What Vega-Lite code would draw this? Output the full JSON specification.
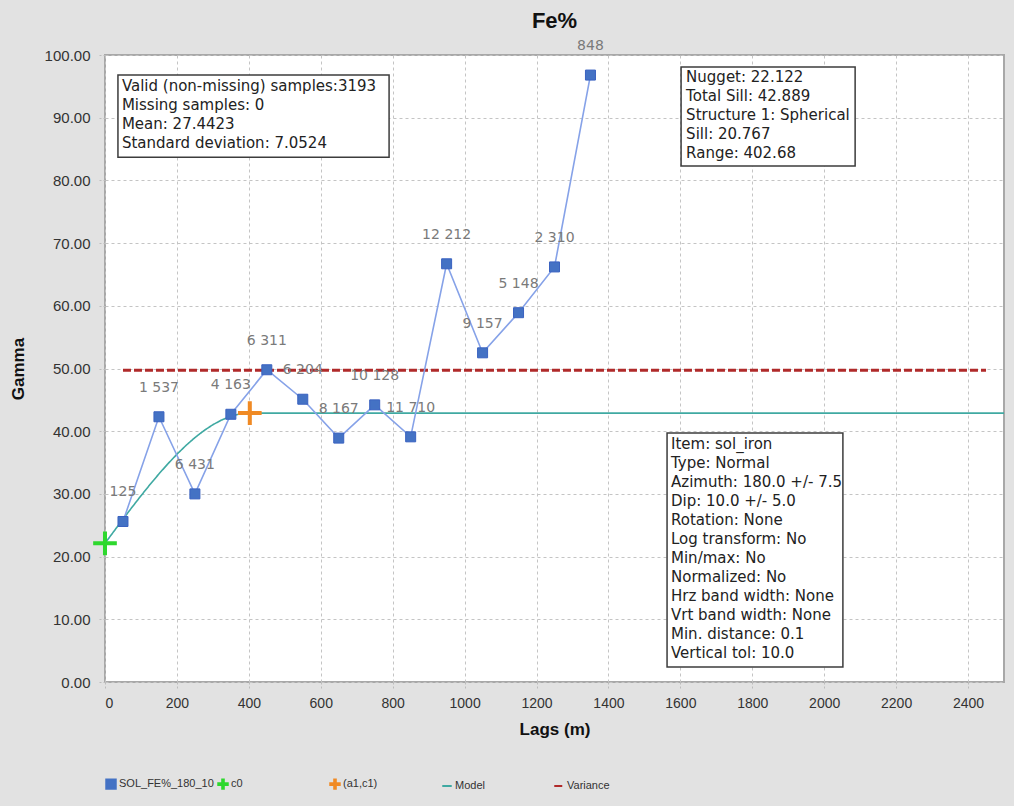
{
  "$schema": "https://vega.github.io/schema/vega-lite/v6.json",
  "width": 899,
  "height": 627,
  "autosize": {"type": "none"},
  "padding": {"left": 105, "top": 55, "right": 10, "bottom": 124},
  "background": "#e2e2e2",
  "title": {"text": "Fe%", "fontSize": 22, "fontWeight": "bold", "font": "Liberation Sans", "color": "#111", "anchor": "middle", "offset": 6},
  "config": {
    "view": {"fill": "white", "stroke": "#a8a8a8", "strokeWidth": 2},
    "axis": {
      "domain": false,
      "grid": true,
      "gridColor": "#c4c4c4",
      "gridDash": [3, 3],
      "gridWidth": 1,
      "tickColor": "#bcbcbc",
      "tickDash": [2, 2],
      "tickSize": 8,
      "labelFont": "Liberation Sans",
      "labelColor": "#333",
      "titleFont": "Liberation Sans",
      "titleFontWeight": "bold",
      "titleFontSize": 17,
      "titleColor": "#111"
    },
    "legend": {
      "labelFont": "Liberation Sans",
      "labelFontSize": 11,
      "labelColor": "#333"
    }
  },
  "datasets": {
    "lags": [
      {"lag": 50, "gamma": 25.6, "pairs": "125", "series": "SOL_FE%_180_10"},
      {"lag": 150, "gamma": 42.3, "pairs": "1 537", "series": "SOL_FE%_180_10"},
      {"lag": 250, "gamma": 30.0, "pairs": "6 431", "series": "SOL_FE%_180_10"},
      {"lag": 350, "gamma": 42.7, "pairs": "4 163", "series": "SOL_FE%_180_10"},
      {"lag": 450, "gamma": 49.8, "pairs": "6 311", "series": "SOL_FE%_180_10"},
      {"lag": 550, "gamma": 45.1, "pairs": "6 204", "series": "SOL_FE%_180_10"},
      {"lag": 650, "gamma": 38.9, "pairs": "8 167", "series": "SOL_FE%_180_10"},
      {"lag": 750, "gamma": 44.2, "pairs": "10 128", "series": "SOL_FE%_180_10"},
      {"lag": 850, "gamma": 39.1, "pairs": "11 710", "series": "SOL_FE%_180_10"},
      {"lag": 950, "gamma": 66.7, "pairs": "12 212", "series": "SOL_FE%_180_10"},
      {"lag": 1050, "gamma": 52.5, "pairs": "9 157", "series": "SOL_FE%_180_10"},
      {"lag": 1150, "gamma": 58.9, "pairs": "5 148", "series": "SOL_FE%_180_10"},
      {"lag": 1250, "gamma": 66.2, "pairs": "2 310", "series": "SOL_FE%_180_10"},
      {"lag": 1350, "gamma": 96.8, "pairs": "848", "series": "SOL_FE%_180_10"}
    ],
    "model": [
      {"lag": 0, "gamma": 22.122, "series": "Model"},
      {"lag": 25, "gamma": 24.054, "series": "Model"},
      {"lag": 50, "gamma": 25.970, "series": "Model"},
      {"lag": 75, "gamma": 27.857, "series": "Model"},
      {"lag": 100, "gamma": 29.699, "series": "Model"},
      {"lag": 125, "gamma": 31.481, "series": "Model"},
      {"lag": 150, "gamma": 33.189, "series": "Model"},
      {"lag": 175, "gamma": 34.807, "series": "Model"},
      {"lag": 200, "gamma": 36.321, "series": "Model"},
      {"lag": 225, "gamma": 37.716, "series": "Model"},
      {"lag": 250, "gamma": 38.977, "series": "Model"},
      {"lag": 275, "gamma": 40.088, "series": "Model"},
      {"lag": 300, "gamma": 41.036, "series": "Model"},
      {"lag": 325, "gamma": 41.804, "series": "Model"},
      {"lag": 350, "gamma": 42.379, "series": "Model"},
      {"lag": 375, "gamma": 42.745, "series": "Model"},
      {"lag": 402.68, "gamma": 42.889, "series": "Model"},
      {"lag": 2500, "gamma": 42.889, "series": "Model"}
    ],
    "variance": [
      {"lag": 50, "gamma": 49.736, "series": "Variance"},
      {"lag": 2450, "gamma": 49.736, "series": "Variance"}
    ],
    "points": [
      {"lag": 0, "gamma": 22.122, "series": "c0"},
      {"lag": 402.68, "gamma": 42.889, "series": "(a1,c1)"}
    ],
    "box1": [{"text": "Valid (non-missing) samples:3193\nMissing samples: 0\nMean: 27.4423\nStandard deviation: 7.0524"}],
    "box2": [{"text": "Nugget: 22.122\nTotal Sill: 42.889\nStructure 1: Spherical\nSill:  20.767\nRange: 402.68"}],
    "box3": [{"text": "Item: sol_iron\nType: Normal\nAzimuth: 180.0 +/- 7.5\nDip: 10.0 +/- 5.0\nRotation: None\nLog transform: No\nMin/max: No\nNormalized: No\nHrz band width: None\nVrt band width: None\nMin. distance: 0.1\nVertical tol: 10.0"}]
  },
  "layer": [
    {
      "data": {"name": "model"},
      "mark": {"type": "line", "strokeWidth": 1.6, "clip": false},
      "encoding": {
        "x": {"field": "lag", "type": "quantitative", "scale": {"domain": [0, 2500], "nice": false}, "axis": {"title": "Lags (m)", "format": "d", "values": [0, 200, 400, 600, 800, 1000, 1200, 1400, 1600, 1800, 2000, 2200, 2400], "labelFontSize": 14, "labelPadding": 6, "titlePadding": 11}},
        "y": {"field": "gamma", "type": "quantitative", "scale": {"domain": [0, 100], "nice": false}, "axis": {"title": "Gamma", "values": [0, 10, 20, 30, 40, 50, 60, 70, 80, 90, 100], "format": ".2f", "labelFontSize": 15, "labelPadding": 7, "titlePadding": 17}},
        "color": {"field": "series", "type": "nominal", "scale": {"domain": ["SOL_FE%_180_10", "c0", "(a1,c1)", "Model", "Variance"], "range": ["#4472c4", "#2ed82e", "#f08a24", "#3fa9a2", "#b02a2a"]},
          "legend": {"title": null, "orient": "bottom", "direction": "horizontal", "columns": 5, "gridAlign": "all", "columnPadding": 0, "symbolSize": 90, "labelOffset": 2, "offset": 41,
            "encode": {"symbols": {"update": {"fill": {"scale": "color", "field": "value"}, "stroke": {"scale": "color", "field": "value"}, "strokeWidth": {"value": 2}}}}}},
        "strokeDash": {"field": "series", "type": "nominal", "scale": {"domain": ["SOL_FE%_180_10", "c0", "(a1,c1)", "Model", "Variance"], "range": [[1, 0], [1, 0], [1, 0], [1, 0], [8, 3]]}, "legend": {"title": null}}
      }
    },
    {
      "data": {"name": "variance"},
      "mark": {"type": "line", "strokeWidth": 3},
      "encoding": {
        "x": {"field": "lag", "type": "quantitative"},
        "y": {"field": "gamma", "type": "quantitative"},
        "color": {"field": "series", "type": "nominal"},
        "strokeDash": {"field": "series", "type": "nominal"}
      }
    },
    {
      "data": {"name": "lags"},
      "mark": {"type": "line", "color": "#86a2e8", "strokeWidth": 1.6},
      "encoding": {
        "x": {"field": "lag", "type": "quantitative"},
        "y": {"field": "gamma", "type": "quantitative"}
      }
    },
    {
      "data": {"name": "lags"},
      "mark": {"type": "point", "filled": true, "size": 100, "opacity": 1, "stroke": "#3a62c0", "strokeWidth": 1},
      "encoding": {
        "x": {"field": "lag", "type": "quantitative"},
        "y": {"field": "gamma", "type": "quantitative"},
        "color": {"field": "series", "type": "nominal"},
        "shape": {"field": "series", "type": "nominal", "scale": {"domain": ["SOL_FE%_180_10", "c0", "(a1,c1)", "Model", "Variance"], "range": ["square", "M-1,-0.17H-0.17V-1H0.17V-0.17H1V0.17H0.17V1H-0.17V0.17H-1Z", "M-1,-0.17H-0.17V-1H0.17V-0.17H1V0.17H0.17V1H-0.17V0.17H-1Z", "stroke", "stroke"]}, "legend": {"title": null}}
      }
    },
    {
      "data": {"name": "points"},
      "mark": {"type": "point", "filled": true, "size": 560, "opacity": 1, "clip": false},
      "encoding": {
        "x": {"field": "lag", "type": "quantitative"},
        "y": {"field": "gamma", "type": "quantitative"},
        "color": {"field": "series", "type": "nominal"},
        "shape": {"field": "series", "type": "nominal"}
      }
    },
    {
      "data": {"name": "lags"},
      "mark": {"type": "text", "dy": -29, "fontSize": 14, "font": "DejaVu Sans", "color": "#7a7a7a", "align": "center", "baseline": "middle"},
      "encoding": {
        "x": {"field": "lag", "type": "quantitative"},
        "y": {"field": "gamma", "type": "quantitative"},
        "text": {"field": "pairs", "type": "nominal"}
      }
    },
    {
      "data": {"name": "box1"},
      "mark": {"type": "rect", "fill": "white", "stroke": "#3c3c3c", "strokeWidth": 1.5},
      "encoding": {"x": {"datum": 36, "type": "quantitative"}, "x2": {"datum": 790}, "y": {"datum": 96.8, "type": "quantitative"}, "y2": {"datum": 83.7}}
    },
    {
      "data": {"name": "box1"},
      "mark": {"type": "text", "lineBreak": "\n", "lineHeight": 19, "fontSize": 15, "font": "DejaVu Sans", "color": "#222", "align": "left", "baseline": "top"},
      "encoding": {"x": {"datum": 47, "type": "quantitative"}, "y": {"datum": 96.2, "type": "quantitative"}, "text": {"field": "text", "type": "nominal"}}
    },
    {
      "data": {"name": "box2"},
      "mark": {"type": "rect", "fill": "white", "stroke": "#3c3c3c", "strokeWidth": 1.5},
      "encoding": {"x": {"datum": 1602, "type": "quantitative"}, "x2": {"datum": 2086}, "y": {"datum": 98.1, "type": "quantitative"}, "y2": {"datum": 82.3}}
    },
    {
      "data": {"name": "box2"},
      "mark": {"type": "text", "lineBreak": "\n", "lineHeight": 19, "fontSize": 15, "font": "DejaVu Sans", "color": "#222", "align": "left", "baseline": "top"},
      "encoding": {"x": {"datum": 1616, "type": "quantitative"}, "y": {"datum": 97.6, "type": "quantitative"}, "text": {"field": "text", "type": "nominal"}}
    },
    {
      "data": {"name": "box3"},
      "mark": {"type": "rect", "fill": "white", "stroke": "#3c3c3c", "strokeWidth": 1.5},
      "encoding": {"x": {"datum": 1563, "type": "quantitative"}, "x2": {"datum": 2052}, "y": {"datum": 39.7, "type": "quantitative"}, "y2": {"datum": 2.4}}
    },
    {
      "data": {"name": "box3"},
      "mark": {"type": "text", "lineBreak": "\n", "lineHeight": 19, "fontSize": 15, "font": "DejaVu Sans", "color": "#222", "align": "left", "baseline": "top"},
      "encoding": {"x": {"datum": 1574, "type": "quantitative"}, "y": {"datum": 39.1, "type": "quantitative"}, "text": {"field": "text", "type": "nominal"}}
    }
  ]
}
